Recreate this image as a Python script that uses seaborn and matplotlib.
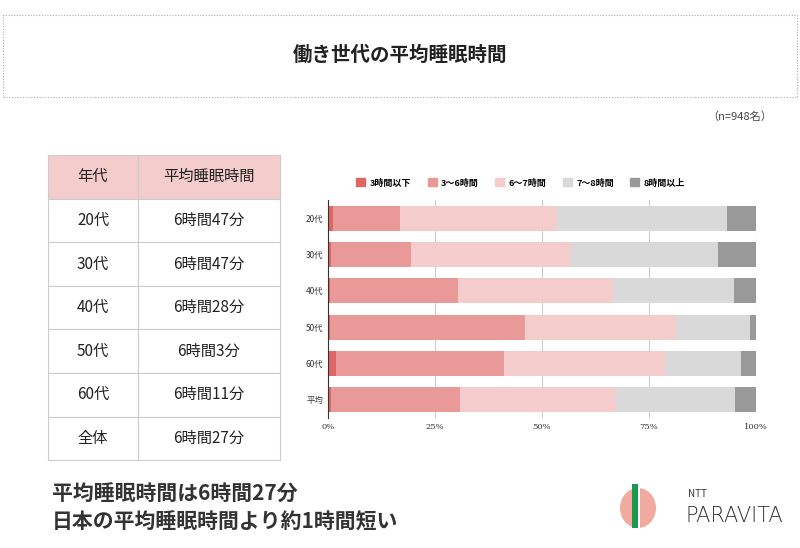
import numpy as np
import pandas as pd
import matplotlib
matplotlib.use("Agg")
import matplotlib.pyplot as plt
import matplotlib.patches as mpatches
import seaborn as sns

plt.rcParams["font.family"] = "Noto Sans CJK JP"

# --- data ------------------------------------------------------------
ages = ["20代", "30代", "40代", "50代", "60代", "平均"]
groups = ["3時間以下", "3〜6時間", "6〜7時間", "7〜8時間", "8時間以上"]
under3 = [1.1, 0.8, 0.5, 0.5, 1.9, 0.8]
h3_6 = [15.7, 18.6, 29.8, 45.6, 39.3, 30.0]
h6_7 = [36.7, 37.1, 36.3, 35.1, 37.5, 36.5]
h7_8 = [39.7, 34.7, 28.2, 17.5, 17.8, 27.9]
over8 = [6.8, 8.8, 5.2, 1.3, 3.5, 4.8]
colors = ["#e06666", "#ea9999", "#f4cccc", "#d9d9d9", "#999999"]

tbl_head = ["年代", "平均睡眠時間"]
tbl_age = ["20代", "30代", "40代", "50代", "60代", "全体"]
tbl_time = ["6時間47分", "6時間47分", "6時間28分", "6時間3分", "6時間11分", "6時間27分"]

W, H = 800, 548
fig = plt.figure(figsize=(8, 5.48), dpi=100)

def fx(x): return x / W
def fy(y): return 1 - y / H

# --- title box -------------------------------------------------------
fig.patches.append(mpatches.Rectangle((fx(3), fy(97)), fx(794), 82 / H,
                   transform=fig.transFigure, fill=False, ec="#aaaaaa",
                   ls=(0, (1, 1.5)), lw=0.8))
fig.text(0.5, fy(55), "働き世代の平均睡眠時間", ha="center", va="center",
         fontsize=14, fontweight="bold", color="#222222")
fig.text(fx(772), fy(117), "（n=948名）", ha="right", va="center", fontsize=8, color="#444444")

# --- table -----------------------------------------------------------
tx = [48, 138, 280]
ty0, rh = 155, 43.6
for r in range(7):
    y = ty0 + r * rh
    for c in range(2):
        fc = "#f4cccc" if r == 0 else "white"
        fig.patches.append(mpatches.Rectangle((fx(tx[c]), fy(y + rh)), (tx[c + 1] - tx[c]) / W, rh / H,
                           transform=fig.transFigure, fc=fc, ec="#cccccc", lw=0.8))
        txt = tbl_head[c] if r == 0 else (tbl_age[r - 1] if c == 0 else tbl_time[r - 1])
        fig.text(fx((tx[c] + tx[c + 1]) / 2), fy(y + rh / 2), txt, ha="center", va="center",
                 fontsize=11, color="#222222")

# --- stacked bar -----------------------------------------------------
ax = fig.add_axes([fx(328), fy(418), (756 - 328) / W, (418 - 200) / H])
series = [under3, h3_6, h6_7, h7_8, over8]
df = pd.DataFrame({g: s for g, s in zip(groups, series)}, index=ages)
left = np.zeros(len(ages))
for g, col in zip(groups, colors):
    sns.barplot(x=left + df[g].values, y=ages, color=col, orient="h", ax=ax,
                width=0.68, label=g, saturation=1)
    left += df[g].values
# cumulative bars overlap; earlier groups go on top
for i, cont in enumerate(ax.containers):
    for p in cont:
        p.set_zorder(10 - i)
ax.set_xlim(0, 100)
ax.set_xticks([0, 25, 50, 75, 100])
ax.set_xticklabels(["0%", "25%", "50%", "75%", "100%"], fontfamily="DejaVu Serif")
ax.tick_params(labelsize=6, length=0, colors="#333333")
for t in ax.get_yticklabels():
    t.set_fontsize(6)
ax.grid(axis="x", color="#cccccc", lw=0.8, zorder=0)
ax.set_axisbelow(True)
for s in ["top", "right", "bottom"]:
    ax.spines[s].set_visible(False)
ax.spines["left"].set_color("#333333")
ax.spines["left"].set_zorder(20)
ax.set_xlabel(""); ax.set_ylabel("")
handles = [mpatches.Patch(color=c, label=g) for g, c in zip(groups, colors)]
ax.legend(handles=handles, loc="lower center", bbox_to_anchor=(0.45, 1.02), ncol=5,
          frameon=False, handlelength=1, handleheight=1, columnspacing=1.8,
          handletextpad=0.5, prop={"weight": "bold", "size": 6.5})

# --- bottom text & logo ----------------------------------------------
fig.text(fx(52), fy(494), "平均睡眠時間は6時間27分", fontsize=15, fontweight="bold",
         color="#333333", va="center")
fig.text(fx(52), fy(522), "日本の平均睡眠時間より約1時間短い", fontsize=15, fontweight="bold",
         color="#333333", va="center")
fig.patches.append(mpatches.Ellipse((fx(638), fy(508)), 36 / W, 40 / H, transform=fig.transFigure,
                   fc="#f0aaa0", ec="none"))
fig.patches.append(mpatches.Rectangle((fx(637), fy(530)), 3 / W, 46 / H, transform=fig.transFigure,
                   fc="white", ec="none"))
fig.patches.append(mpatches.Rectangle((fx(632), fy(528)), 6 / W, 44 / H, transform=fig.transFigure,
                   fc="#1a9a4a", ec="none"))
fig.text(fx(688), fy(494), "NTT", fontsize=7, color="#333333", va="center")
fig.text(fx(686), fy(516), "PARAVITA", fontsize=15, color="#333333", va="center",
         fontfamily="DejaVu Sans", fontweight="light")

fig.savefig("out.png", dpi=100, facecolor="white")
